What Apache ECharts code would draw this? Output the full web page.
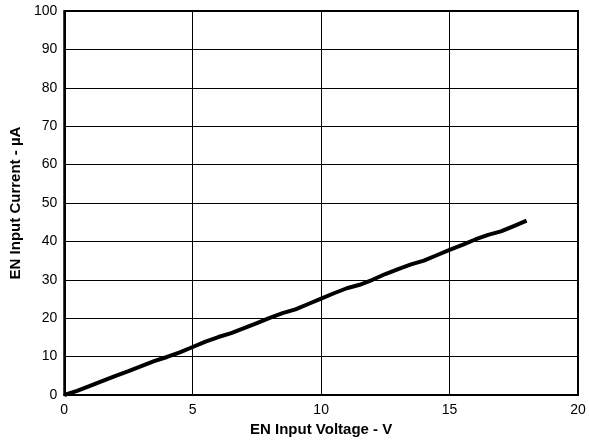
<!DOCTYPE html>
<html>
<head>
<meta charset="utf-8">
<script src="https://cdn.jsdelivr.net/npm/echarts@6/dist/echarts.min.js"></script>
<style>
  html, body { margin: 0; padding: 0; background: #fff; }
  #chart { width: 589px; height: 443px; }
</style>
</head>
<body>
<div id="chart"></div>
<script>
// EN input voltage (V) vs EN input current (uA)
var voltage = [0, 0.5, 1, 1.5, 2, 2.5, 3, 3.5, 4, 4.5, 5, 5.5, 6, 6.5, 7, 7.5, 8, 8.5, 9,
  9.5, 10, 10.5, 11, 11.5, 12, 12.5, 13, 13.5, 14, 14.5, 15, 15.5, 16, 16.5, 17, 17.5, 18]
var current = [0, 1.1, 2.4, 3.7, 5.0, 6.2, 7.5, 8.8, 9.9, 11.1, 12.5, 13.9, 15.1, 16.1, 17.4,
  18.7, 20.1, 21.3, 22.3, 23.7, 25.1, 26.5, 27.8, 28.7, 30.0, 31.5, 32.8, 34.0, 35.0, 36.4,
  37.8, 39.1, 40.5, 41.7, 42.6, 44.0, 45.4]

var xTicks = [0, 5, 10, 15, 20]
var yTicks = [0, 10, 20, 30, 40, 50, 60, 70, 80, 90, 100]

var chart = echarts.init(document.getElementById('chart'))
var font = 'Liberation Sans, Arial, sans-serif'

chart.setOption({
  animation: false,
  grid: {
    left: 60,
    right: 11,
    top: 11,
    bottom: 48,
    show: true,
    borderColor: '#000',
    borderWidth: 2
  },
  xAxis: {
    type: 'value',
    min: xTicks[0],
    max: xTicks[xTicks.length - 1],
    interval: 5,
    name: 'EN Input Voltage - V',
    nameLocation: 'middle',
    nameGap: 25,
    nameTextStyle: { fontFamily: font, fontWeight: 'bold', fontSize: 15, color: '#000' },
    axisLine: { lineStyle: { color: '#000', width: 2 } },
    axisTick: { show: false },
    axisLabel: { fontFamily: font, fontSize: 14, color: '#000', margin: 8 },
    splitLine: { lineStyle: { color: '#000', width: 1 } }
  },
  yAxis: {
    type: 'value',
    min: yTicks[0],
    max: yTicks[yTicks.length - 1],
    interval: 10,
    name: 'EN Input Current - µA',
    nameLocation: 'middle',
    nameGap: 39,
    nameTextStyle: { fontFamily: font, fontWeight: 'bold', fontSize: 15, color: '#000' },
    axisLine: { lineStyle: { color: '#000', width: 2 } },
    axisTick: { show: false },
    axisLabel: { fontFamily: font, fontSize: 14, color: '#000', margin: 7 },
    splitLine: { lineStyle: { color: '#000', width: 1 } }
  },
  series: [{
    type: 'line',
    data: voltage.map(function (v, i) { return [v, current[i]] }),
    showSymbol: false,
    smooth: false,
    lineStyle: { color: '#000', width: 4 }
  }]
})
</script>
</body>
</html>
